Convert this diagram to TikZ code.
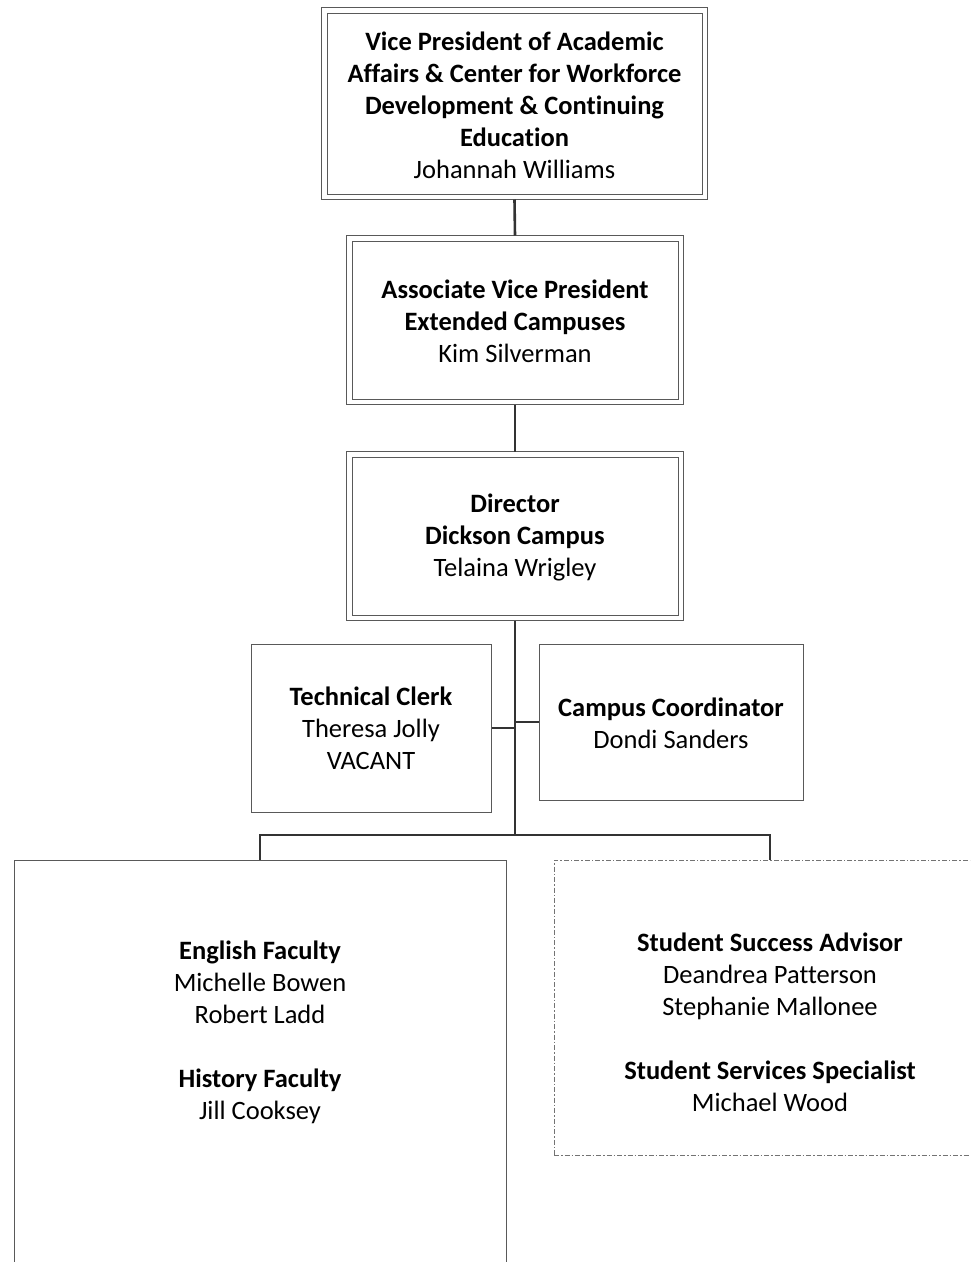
\documentclass[tikz,border=0pt]{standalone}
\usepackage{fontspec}
\setmainfont{Carlito}[Ligatures=NoCommon]
\begin{document}
\begin{tikzpicture}[x=1pt,y=-1pt,
  boxline/.style={draw=black!65,line width=1pt},
  conn/.style={draw=black!80,line width=2.6pt},
  txt/.style={align=center,font=\fontsize{26.5}{32}\selectfont,inner sep=0pt},
  dashbox/.style={draw=black!55,line width=0.9pt,dash pattern=on 5pt off 2pt on 1.5pt off 2pt}]
\useasboundingbox (0,0) rectangle (970,1262);
\clip (0,0) rectangle (970,1262);
% boxes (inner line of the double border)
\node[boxline,minimum width=375pt,minimum height=181pt,inner sep=0pt] (vp) at (514.5,103.5) {};
\draw[boxline] ([xshift=-5pt,yshift=5pt]vp.north west) rectangle ([xshift=5pt,yshift=-5pt]vp.south east);
\node[txt] (vpt) at (514.5,105) {\textbf{Vice President of Academic}\\\textbf{Affairs \& Center for Workforce}\\\textbf{Development \& Continuing}\\\textbf{Education}\\Johannah Williams};
\node[boxline,minimum width=326pt,minimum height=158pt,inner sep=0pt] (avp) at (515,320) {};
\draw[boxline] ([xshift=-5pt,yshift=5pt]avp.north west) rectangle ([xshift=5pt,yshift=-5pt]avp.south east);
\node[txt] (avpt) at (515,321) {\textbf{Associate Vice President}\\\textbf{Extended Campuses}\\Kim Silverman};
\node[boxline,minimum width=326pt,minimum height=158pt,inner sep=0pt] (dir) at (515,536) {};
\draw[boxline] ([xshift=-5pt,yshift=5pt]dir.north west) rectangle ([xshift=5pt,yshift=-5pt]dir.south east);
\node[txt] (dirt) at (515,537) {\textbf{Director}\\\textbf{Dickson Campus}\\Telaina Wrigley};
\node[boxline,minimum width=240pt,minimum height=168pt,inner sep=0pt] (clerk) at (371,728) {};
\node[txt] (clerkt) at (371,728.5) {\textbf{Technical Clerk}\\Theresa Jolly\\VACANT};
\node[boxline,minimum width=264pt,minimum height=156pt,inner sep=0pt] (coord) at (671,722) {};
\node[txt] (coordt) at (671,723) {\textbf{Campus Coordinator}\\Dondi Sanders};
\node[boxline,minimum width=492pt,minimum height=460pt,inner sep=0pt] (eng) at (260,1090) {};
\node[txt] (engt) at (260,1032) {\textbf{English Faculty}\\Michelle Bowen\\Robert Ladd\\[32pt]\textbf{History Faculty}\\Jill Cooksey};
\node[dashbox,minimum width=432pt,minimum height=295pt,inner sep=0pt] (stu) at (770,1007.5) {};
\node[txt] (stut) at (770,1022) {\textbf{Student Success Advisor}\\Deandrea Patterson\\Stephanie Mallonee\\[32pt]\textbf{Student Services Specialist}\\Michael Wood};
% connectors
\coordinate (j1) at (515,728);
\coordinate (j2) at (515,722);
\coordinate (bar) at (515,835);
\draw[conn] ([yshift=-5pt]vp.south) -- ([yshift=5pt]avp.north);
\draw[conn] ([yshift=-5pt]avp.south) -- ([yshift=5pt]dir.north);
\draw[conn] ([yshift=-5pt]dir.south) -- (bar);
\draw[conn] (clerk.east |- j1) -- (j1);
\draw[conn] (coord.west |- j2) -- (j2);
\draw[conn] (eng.north) -- (eng.north |- bar) -- (stu.north |- bar) -- (stu.north);
\end{tikzpicture}
\end{document}
